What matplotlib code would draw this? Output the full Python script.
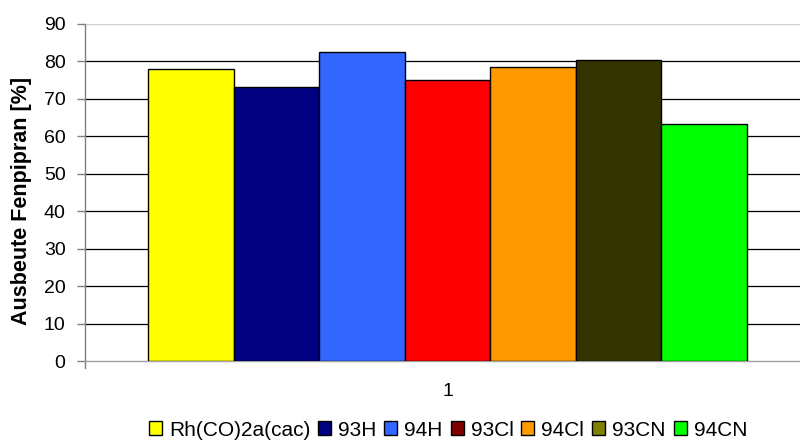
import matplotlib
matplotlib.use("Agg")
import matplotlib.pyplot as plt
from matplotlib.patches import Patch

plt.rcParams['font.family'] = ['Liberation Sans', 'DejaVu Sans']

series = ["Rh(CO)2a(cac)", "93H", "94H", "93Cl", "94Cl", "93CN", "94CN"]
values = [78.1, 73.3, 82.4, 75.0, 78.5, 80.3, 63.2]
bar_colors = ["#FFFF00", "#000080", "#3366FF", "#FF0000", "#FF9900", "#333300", "#00FF00"]
legend_colors = ["#FFFF00", "#000080", "#3366FF", "#800000", "#FF9900", "#808000", "#00FF00"]
category = "1"
yticks = list(range(0, 100, 10))

FS = 14

fig = plt.figure(figsize=(8.0, 4.41), dpi=100)
ax = fig.add_axes([85/800, 1-361/441, 1-85/800, (361-24)/441])

x = list(range(len(series)))
ax.bar(x, values, width=1.0, color=bar_colors, edgecolor="black", linewidth=1.0, zorder=3)

ax.set_xlim(-1.237, 7.12)
ax.set_ylim(0, 90)
ax.set_yticks(yticks)
ax.set_yticklabels([str(t) for t in yticks], fontsize=FS)
for t in yticks[1:-1]:
    ax.axhline(t, color="black", linewidth=0.9, zorder=1)
ax.axhline(90, color="#d0d0d0", linewidth=1.0, zorder=1)

ax.set_xticks([3])
ax.set_xticklabels([category], fontsize=FS)
ax.tick_params(axis='x', length=0, pad=16)
ax.tick_params(axis='y', length=6, color="#808080", width=1.0, pad=8)

for s in ["top", "right"]:
    ax.spines[s].set_visible(False)
ax.spines["left"].set_color("#808080")
ax.spines["bottom"].set_color("#a0a0a0")
ax.spines["left"].set_linewidth(1.0)
ax.spines["bottom"].set_linewidth(1.0)
ax.plot([-1.237, -1.237], [0, -1.8], color="#808080", linewidth=1.0, clip_on=False)

ax.set_ylabel("Ausbeute Fenpipran [%]", fontsize=15.5, fontweight="bold")
ax.yaxis.set_label_coords(-0.074, 0.475)

handles = [Patch(facecolor=c, edgecolor="black", linewidth=1.0) for c in legend_colors]
fig.legend(handles, series, loc="center", bbox_to_anchor=(448/800, 1-430/441), ncol=7,
           frameon=False, fontsize=15, handlelength=0.62, handleheight=0.62,
           handletextpad=0.34, columnspacing=0.38, borderaxespad=0)

fig.savefig("out.png", dpi=100)
